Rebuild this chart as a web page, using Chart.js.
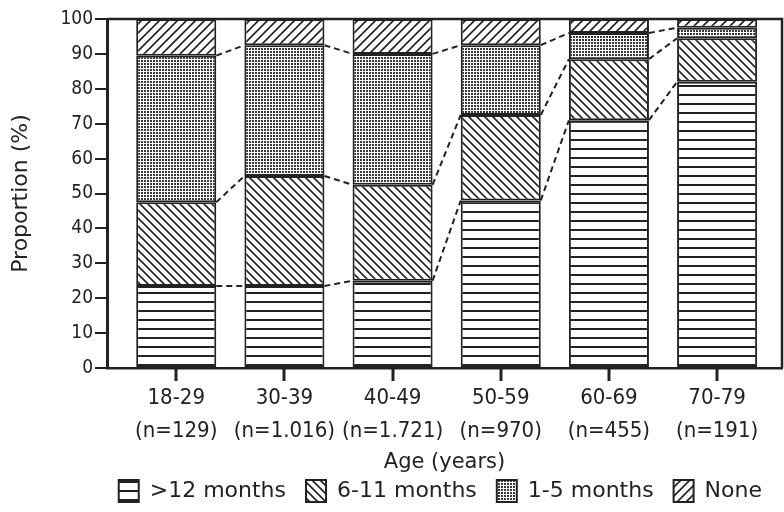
<!DOCTYPE html>
<html>
<head>
<meta charset="utf-8">
<script src="https://cdn.jsdelivr.net/npm/chart.js@4.4.1/dist/chart.umd.min.js"></script>
<style>
  html, body { margin: 0; padding: 0; background: #fff; }
</style>
</head>
<body>
<canvas id="chart" width="784" height="512"></canvas>
<script>
// Valeurs (en %)
const ageGroups = ['18-29', '30-39', '40-49', '50-59', '60-69', '70-79'];
const sampleSizes = ['(n=129)', '(n=1.016)', '(n=1.721)', '(n=970)', '(n=455)', '(n=191)'];
const over12 = [23.5, 23.5, 25, 48, 71, 82];
const m6to11 = [24, 31.5, 27.5, 24.5, 17.5, 12.5];
const m1to5 = [42, 37.5, 37.5, 20, 7.5, 3];
const none = [10.5, 7.5, 10, 7.5, 4, 2.5];
const yTicks = [0, 10, 20, 30, 40, 50, 60, 70, 80, 90, 100];

const ink = '#222';
const narrow = '"DejaVu Sans Condensed", "Liberation Sans Narrow", sans-serif';
const wide = '"DejaVu Sans", sans-serif';

// motifs de hachures
function makePattern(w, h, draw) {
    const c = document.createElement('canvas');
    c.width = w; c.height = h;
    const g = c.getContext('2d');
    g.fillStyle = '#fff';
    g.fillRect(0, 0, w, h);
    g.strokeStyle = ink;
    g.fillStyle = ink;
    draw(g, w, h);
    return g.createPattern(c, 'repeat');
}

const ctx = document.getElementById('chart').getContext('2d');

const patHoriz = makePattern(10, 9, (g) => { g.fillRect(0, 4, 10, 2); });
const patBack = makePattern(8, 8, (g) => {
    g.lineWidth = 1.6;
    g.beginPath();
    g.moveTo(-2, -2); g.lineTo(10, 10);
    g.moveTo(-2, 6); g.lineTo(2, 10);
    g.moveTo(6, -2); g.lineTo(10, 2);
    g.stroke();
});
const patDots = makePattern(3, 3, (g) => { g.fillStyle = '#3a3a3a'; g.fillRect(0, 0, 2, 2); });
const patFwd = makePattern(9, 9, (g) => {
    g.lineWidth = 1.6;
    g.beginPath();
    g.moveTo(-2, 11); g.lineTo(11, -2);
    g.moveTo(-2, 2); g.lineTo(2, -2);
    g.moveTo(7, 11); g.lineTo(11, 7);
    g.stroke();
});

function serie(label, values, pattern) {
    return {
        label: label,
        data: values.map((v, i) => ({ x: i, y: v })),
        backgroundColor: pattern,
        borderColor: ink,
        borderWidth: 2,
        borderSkipped: false,
        categoryPercentage: 0.74,
        barPercentage: 1
    };
}

// cadre, petits traits sous l'axe x, lignes pointillées entre les barres
const extras = {
    id: 'extras',
    afterDraw(chart) {
        const c = chart.ctx;
        const a = chart.chartArea;
        const xs = chart.scales.x;
        c.save();
        c.strokeStyle = ink;
        c.lineWidth = 2.5;
        c.beginPath();
        c.moveTo(a.left, a.top);
        c.lineTo(a.right, a.top);
        c.lineTo(a.right, a.bottom);
        c.stroke();

        c.lineWidth = 3;
        ageGroups.forEach((g, i) => {
            const px = Math.round(xs.getPixelForValue(i));
            c.beginPath();
            c.moveTo(px, a.bottom);
            c.lineTo(px, a.bottom + 13);
            c.stroke();
        });

        c.lineWidth = 2;
        c.setLineDash([6, 4]);
        for (let d = 0; d < 3; d++) {
            const bars = chart.getDatasetMeta(d).data;
            for (let i = 0; i < bars.length - 1; i++) {
                const p = bars[i], q = bars[i + 1];
                c.beginPath();
                c.moveTo(p.x + p.width / 2, p.y);
                c.lineTo(q.x - q.width / 2, q.y);
                c.stroke();
            }
        }
        c.restore();
    }
};

new Chart(ctx, {
    type: 'bar',
    data: {
        datasets: [
            serie('>12 months', over12, patHoriz),
            serie('6-11 months', m6to11, patBack),
            serie('1-5 months', m1to5, patDots),
            serie('None', none, patFwd)
        ]
    },
    options: {
        responsive: false,
        animation: false,
        layout: { padding: { top: 19, right: 2, bottom: 0, left: 0 } },
        plugins: {
            tooltip: { enabled: false },
            legend: {
                position: 'bottom',
                align: 'end',
                labels: {
                    boxWidth: 20,
                    boxHeight: 22,
                    padding: 20,
                    color: ink,
                    font: { family: wide, size: 22 }
                }
            }
        },
        scales: {
            x: {
                type: 'linear',
                offset: false,
                min: -0.64,
                max: 5.6,
                stacked: true,
                afterBuildTicks: s => { s.ticks = ageGroups.map((_, i) => ({ value: i })); },
                afterFit: s => { s.height = 512 - 368 - (s.chart.legend ? s.chart.legend.height : 52); },
                ticks: {
                    autoSkip: false,
                    maxRotation: 0,
                    padding: 2,
                    color: ink,
                    font: { family: narrow, size: 22, lineHeight: 1.5 },
                    callback: v => [ageGroups[v], sampleSizes[v]]
                },
                grid: { offset: false, drawOnChartArea: false, tickLength: 12, color: ink, lineWidth: 2 },
                border: { color: ink, width: 2.5 },
                title: {
                    display: true,
                    text: 'Age (years)',
                    color: ink,
                    font: { family: wide, size: 21, lineHeight: 1.2 },
                    padding: { top: 0, bottom: -15 }
                }
            },
            y: {
                stacked: true,
                min: 0,
                max: 100,
                afterBuildTicks: s => { s.ticks = yTicks.map(v => ({ value: v })); },
                afterFit: s => { s.width = 107; },
                ticks: {
                    padding: 2,
                    color: ink,
                    font: { family: narrow, size: 19 }
                },
                grid: { drawOnChartArea: false, tickLength: 12, color: ink, lineWidth: 2 },
                border: { color: ink, width: 3 },
                title: {
                    display: true,
                    text: 'Proportion (%)',
                    color: ink,
                    font: { family: wide, size: 22, lineHeight: 1.2 },
                    padding: { top: 8, bottom: 0 }
                }
            }
        }
    },
    plugins: [extras]
});
</script>
</body>
</html>
